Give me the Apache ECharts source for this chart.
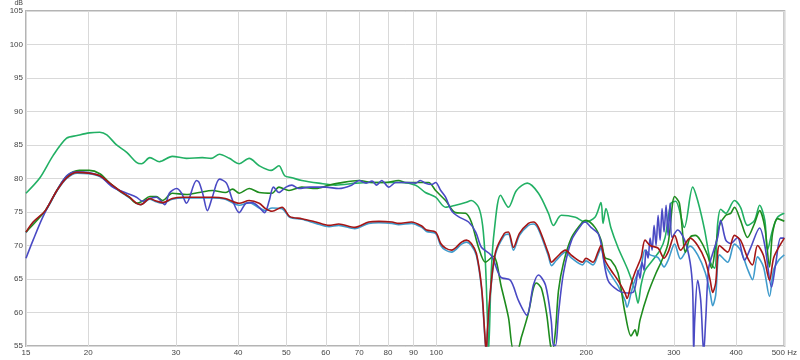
<!DOCTYPE html>
<html><head><meta charset="utf-8">
<script src="https://cdn.jsdelivr.net/npm/echarts@6/dist/echarts.min.js"></script>
<style>html,body{margin:0;padding:0;background:#fff}#c{width:800px;height:360px}</style>
</head><body><div id="c"></div>
<script>
// Tick labels
const xTicks = [15,20,30,40,50,60,70,80,90,100,200,300,400,500];
const yMin = 55, yMax = 105, yStep = 5;

// Light green (top) curve
const lgF  = [15,16,17,18.1,19,20.1,21.1,21.8,22.8,23.9,25,25.6,26.6,27.8,29.5,31.5,33.9,35.3,36.7,38.4,40.2,42.1,44.1,46.6,48.3,49.6,51.3,53.7,58.1,62.8,69,73.2,79.1,85.2,90.9,95.1,99.7,104.4,109.3,114.5,117.6,121.6,123.9,125.5,126.7,127.3,127.9,129,130.8,134.6,139.6,144.9,152.3,160.4,168,171.9,178.3,190.3,199.1,208.3,214.2,216.2,219.2,224.3,231.7,242.7,250.7,254.2,257.8,262.6,270,281.5,288.1,296,302.5,314.8,327.3,334.9,345.9,355.7,362.4,367.4,372.5,381.4,397,408.3,421.7,435.7,446,456.9,462.6,473.5,484.6,500];
const lgDb = [77.8,80.1,83.4,86.0,86.4,86.8,86.9,86.5,85.0,83.9,82.4,82.2,83.1,82.5,83.3,83.0,83.1,83.0,83.6,83.0,82.2,83.0,81.9,81.2,81.9,80.4,80.1,79.7,79.3,79.0,79.3,79.4,79.4,79.4,79.0,77.9,77.2,75.7,76.0,76.4,76.7,75.7,73.0,67.5,58.9,54.1,57.4,66.3,72.3,77.5,75.7,78.2,79.3,77.8,74.8,73.0,74.5,74.2,73.5,74.2,76.4,73.3,75.5,72.6,69.7,66.3,63.3,61.4,64.1,66.3,67.5,69.3,71.2,76.3,76.6,72.7,78.7,76.7,72.3,67.4,66.6,73.3,75.4,74.8,76.7,75.7,73.0,73.75,76.0,73.75,69.3,72.3,74.2,74.8];

// Dark red curve
const rdF  = [15,15.5,16.4,17.3,18.1,19,20,21.1,22.1,23.1,24.2,25,25.5,26.6,27.2,28.2,29.5,31,33.4,35.5,37.7,40.2,42.1,44.1,45.4,46.8,49,50.8,53.7,57.3,60.9,63.7,68.6,73.2,76.7,81.5,84,89.2,93.5,95.6,99.7,102.1,104.4,107.3,112.4,115,117.6,120.4,123.3,125,126,126.7,128.5,131.5,137,139.6,142.9,146.9,153.1,156.7,160.4,168,170.4,174.3,181.8,187,196.7,199.8,206.4,211.2,214.2,218.2,224.3,231.7,239.4,241.6,246.1,250.7,257.8,262.6,268.8,278.9,286.7,292.1,301.1,309.4,323.4,334.9,346.7,354.9,359,364,370.6,384.8,397,408.3,421.7,431.6,441.7,454.1,466.9,475.7,487.1,500];
const rdDb = [72.0,73.5,75.2,78.2,80.1,80.9,80.8,80.4,79.3,78.2,77.2,76.3,76.1,77.0,76.7,76.4,77.0,77.2,77.2,77.2,77.0,76.3,76.7,76.3,75.5,75.1,75.7,74.3,74.0,73.5,73.0,73.2,72.7,73.5,73.6,73.5,73.3,73.5,72.9,72.3,72.0,70.3,69.6,69.3,70.5,70.8,70.3,68.8,63.8,57.4,54.0,57.4,63.3,69.0,71.8,72.0,69.7,71.8,73.3,73.5,72.7,68.8,67.5,68.2,69.3,68.5,67.5,68.1,67.5,69.0,70.0,67.8,66.3,64.8,62.9,62.1,64.2,66.0,68.2,70.8,70.0,69.6,68.1,69.0,71.5,69.3,71.1,70.0,67.8,64.8,63.0,64.4,70.0,69.0,71.5,70.8,68.2,67.1,70.0,68.5,64.8,68.1,69.7,71.1];

// Light blue curve (same frequencies as red)
const lbF  = rdF;
const lbDb = [71.9,73.4,75.1,78.1,80.0,80.8,80.7,80.3,79.2,78.1,77.1,76.3,76.1,76.9,76.6,76.3,76.9,77.1,77.1,77.1,76.9,76.0,76.4,75.6,75.2,75.6,75.5,74.2,73.9,73.3,72.8,73.0,72.5,73.3,73.4,73.3,73.1,73.3,72.7,72.1,71.8,70.0,69.3,69.0,70.2,70.5,70.0,68.5,63.5,57.0,54.0,57.0,63.0,68.7,71.5,71.7,69.3,71.5,73.0,73.2,72.4,68.4,67.0,67.8,69.0,68.1,67.1,67.7,67.1,68.6,69.6,67.2,65.6,64.0,61.8,60.8,62.9,64.9,67.0,69.3,68.6,68.2,66.8,67.8,70.2,68.0,69.9,68.6,66.0,62.9,61.0,62.6,68.6,67.5,70.2,69.3,66.5,64.9,68.3,66.8,62.4,66.3,67.8,68.6];

// Blue curve
const blF  = [15,15.5,16.2,17,18.1,19,20,21.1,22.4,23.9,25,25.7,26.6,27.4,28.5,29.1,30.1,30.8,31.5,33,33.4,34,34.7,35.5,36.7,37.9,39,40.2,41.5,42.7,44.1,45.2,46.2,47.1,48.3,49.9,51.3,53,55.5,60,63.7,67.6,70,72.3,74.3,75.9,77.7,80.3,82.9,86.8,90.9,92.9,95.1,97.9,99.7,102.1,104.4,107.3,110.8,116.1,120,123.3,129,134.6,140.9,146.2,152,156.7,160.4,165.7,170.1,171.9,173.6,176,180.1,187,196.7,199.1,204.5,211.2,214.2,221.2,231.7,241.6,248.4,252,254.2,256.6,259,261.4,263.9,266.3,268.8,271.3,273.8,276.3,278.9,281.5,284.1,286.7,289.4,292.1,294.8,297.5,305.3,315.3,323.4,327.3,328.8,330.4,334.9,339.7,344.4,347.6,352.4,360.7,367.4,372.5,381.4,390.2,402.6,415.9,427.6,446,456.9,471.4,480.1,491.4,500];
const blDb = [68.1,70.8,74.2,77.2,80.4,81.0,80.9,80.4,78.7,77.8,77.2,76.6,77.0,77.2,76.1,77.8,78.5,77.8,76.3,79.7,79.4,77.6,75.2,77.2,79.9,79.3,76.7,74.9,76.3,76.4,75.7,74.9,76.7,78.7,77.9,78.7,79.0,78.5,78.7,78.7,78.5,79.0,79.7,79.3,79.6,79.0,79.7,78.7,79.4,79.4,79.3,79.7,79.3,79.1,79.4,78.2,77.2,75.2,74.3,73.5,72.0,69.7,68.5,65.3,64.8,61.8,59.6,64.1,65.6,64.1,58.9,55.1,55.1,59.9,65.9,70.8,73.3,73.5,72.7,71.8,70.3,64.8,63.3,62.9,63.0,64.5,66.3,65.1,67.5,66.3,69.3,68.1,71.1,69.3,73.0,70.0,74.5,70.8,75.5,72.0,76.0,71.5,76.3,71.2,72.3,70.8,67.5,63.3,54.0,58.9,64.8,61.8,54.0,58.9,66.6,69.3,71.2,73.75,70.8,70.3,71.2,67.8,69.6,72.6,70.0,63.8,67.1,71.1,71.1];

// Dark green curve
const dgF  = [15,16.4,17.3,18.1,19.2,20.1,21.1,22.1,23.1,24.2,25,25.7,26.6,27.4,28.2,29.5,31.5,33.4,35.5,37.7,39,40.2,42.1,44.1,46.8,48.3,50.6,53.7,57.3,60.9,63.7,70,74.3,79.1,84,86.8,92.1,96.5,99.7,104.4,109.3,114.5,117.6,121.6,125.5,130.2,135.1,139.6,142.9,145.5,148.2,153.1,156.7,158.9,162.6,166.5,169.6,171.2,173.6,176,180.1,187,196.7,199.8,208.3,214.2,218.2,224.3,231.7,239.4,246.1,250.7,253,256.6,266.3,276.3,282.8,292.1,301.1,307.8,316.6,323.4,331.1,338.9,350.8,357.3,364,370.6,381.4,390.2,397,408.3,421.7,435.7,446,456.9,466.9,473.5,484.6,500];
const dgDb = [72.0,75.2,78.2,80.3,81.2,81.2,80.7,79.3,78.2,77.2,76.3,76.6,77.3,77.3,76.7,77.8,77.6,77.9,78.2,77.9,78.4,77.8,78.5,77.9,77.8,78.7,78.2,78.7,78.5,79.0,79.3,79.7,79.4,79.4,79.7,79.4,79.4,79.4,78.2,76.7,74.9,74.8,73.5,69.7,67.5,68.4,63.8,59.3,54.4,54.4,56.3,59.9,63.6,64.4,63.6,59.9,55.1,54.4,57.4,63.3,67.4,71.2,73.5,73.75,72.7,70.8,68.2,67.8,65.9,59.9,56.5,57.4,56.5,58.9,62.9,65.9,67.5,70.3,77.3,76.3,69.0,71.2,71.5,70.8,68.5,66.6,70.0,73.0,74.5,74.8,75.7,73.75,71.2,73.3,75.2,72.7,66.8,71.8,74.0,73.6];

const toPts = (f, d) => f.map((v, i) => [Math.log10(v), d[i]]);
const tickVals = xTicks.map(v => Math.log10(v));

const chart = echarts.init(document.getElementById('c'), null, {renderer: 'canvas'});
const font = 'Liberation Sans, Arial, sans-serif';
const mk = (name, f, d, color) => ({
  name, type: 'line', data: toPts(f, d), showSymbol: false, symbol: 'none',
  smooth: 0.3, clip: true, animation: false,
  lineStyle: {color, width: 1.6}, itemStyle: {color}
});
chart.setOption({
  animation: false,
  backgroundColor: '#ffffff',
  grid: {left: 26, right: 13, top: 10, bottom: 14, show: true, borderColor: '#b4b4b4', borderWidth: 2, backgroundColor: '#ffffff'},
  xAxis: {
    type: 'value', min: Math.log10(15), max: Math.log10(500),
    axisLine: {show: false},
    axisTick: {show: false, customValues: tickVals},
    axisLabel: {customValues: tickVals, fontSize: 8, color: '#444', margin: 3, fontFamily: font,
      formatter: v => { const n = Math.round(Math.pow(10, v)); return n === 500 ? '500 Hz' : String(n); }},
    splitLine: {show: true, lineStyle: {color: '#d9d9d9', width: 1}}
  },
  yAxis: {
    type: 'value', min: yMin, max: yMax, interval: yStep,
    name: 'dB', nameLocation: 'end', nameGap: 3,
    nameTextStyle: {fontSize: 7, color: '#444', fontFamily: font, align: 'right', padding: [0, 3, 0, 0]},
    axisLine: {show: false}, axisTick: {show: false},
    axisLabel: {fontSize: 8, color: '#444', margin: 3, fontFamily: font},
    splitLine: {show: true, lineStyle: {color: '#d9d9d9', width: 1}}
  },
  series: [
    mk('LG', lgF, lgDb, '#22b064'),
    mk('LB', lbF, lbDb, '#3f9bcc'),
    mk('DG', dgF, dgDb, '#1e8c1e'),
    mk('BL', blF, blDb, '#4a4ac4'),
    mk('RD', rdF, rdDb, '#a51616')
  ]
});
</script></body></html>
